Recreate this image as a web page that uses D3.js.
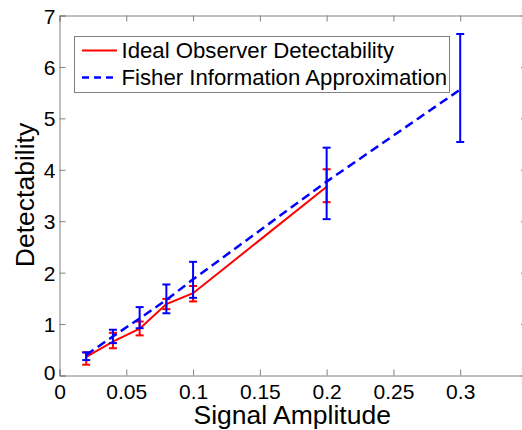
<!DOCTYPE html>
<html>
<head>
<meta charset="utf-8">
<script src="https://cdn.jsdelivr.net/npm/d3@7"></script>
<style>
  html, body { margin: 0; padding: 0; background: #fff; }
  svg { display: block; }
  text { font-family: "Liberation Sans", Arial, Helvetica, sans-serif; fill: #000; }
</style>
</head>
<body>
<svg id="chart" width="522" height="430"></svg>
<script>
// ---- data ----
const idealX     = [0.02, 0.04, 0.06, 0.08, 0.10, 0.20];
const idealY     = [0.36, 0.66, 0.91, 1.39, 1.60, 3.67];
const idealLow   = [0.21, 0.53, 0.78, 1.29, 1.44, 3.37];
const idealHigh  = [0.45, 0.83, 1.05, 1.49, 1.74, 4.01];

const fisherX    = [0.02, 0.04, 0.06, 0.08, 0.10, 0.20, 0.30];
const fisherY    = [0.40, 0.76, 1.11, 1.47, 1.87, 3.77, 5.56];
const fisherLow  = [0.30, 0.63, 0.92, 1.21, 1.51, 3.04, 4.54];
const fisherHigh = [0.45, 0.89, 1.33, 1.77, 2.21, 4.43, 6.64];

const xTicks = [0, 0.05, 0.1, 0.15, 0.2, 0.25, 0.3];
const yTicks = [0, 1, 2, 3, 4, 5, 6, 7];
const legendLabels = ["Ideal Observer Detectability", "Fisher Information Approximation"];
const xLabel = "Signal Amplitude";
const yLabel = "Detectability";

// ---- layout ----
const svg = d3.select("#chart");
const mLeft = 59.5, mRight = 527, mTop = 15.5, mBottom = 375.5;
const x = d3.scaleLinear().domain([0, 0.35]).range([mLeft, mRight]);
const y = d3.scaleLinear().domain([0, 7]).range([mBottom, mTop]);
const axisColor = "#808080";
const red = "#ff0000", blue = "#0000ff";

// axes box
const fmt = d => d === 0 ? "0" : String(d);
const gxB = svg.append("g").attr("transform", `translate(0,${mBottom})`)
  .call(d3.axisBottom(x).tickValues(xTicks).tickSize(-6).tickPadding(0).tickFormat(fmt));
const gxT = svg.append("g").attr("transform", `translate(0,${mTop})`)
  .call(d3.axisTop(x).tickValues(xTicks).tickSize(-6).tickFormat(""));
const gyL = svg.append("g").attr("transform", `translate(${mLeft},0)`)
  .call(d3.axisLeft(y).tickValues(yTicks).tickSize(-6).tickPadding(0).tickFormat(fmt));
const gyR = svg.append("g").attr("transform", `translate(${mRight},0)`)
  .call(d3.axisRight(y).tickValues(yTicks).tickSize(-6).tickFormat(""));
[gxB, gxT, gyL, gyR].forEach(g => {
  g.select(".domain").attr("stroke", axisColor).attr("stroke-width", 1);
  g.selectAll(".tick line").attr("stroke", axisColor).attr("stroke-width", 1);
});
gxB.selectAll(".tick text").attr("font-size", 21).attr("fill", "#000")
  .attr("dy", null).attr("y", 23.5)
  .style("font-family", '"Liberation Sans", Arial, sans-serif');
gyL.selectAll(".tick text").attr("font-size", 21).attr("fill", "#000")
  .attr("x", -4).attr("dy", "0.36em")
  .style("font-family", '"Liberation Sans", Arial, sans-serif');
gyL.selectAll(".tick").filter(d => d === 0).select("text").attr("dy", "0.2em");

// axis labels
svg.append("text").attr("x", (mLeft + mRight) / 2 - 1).attr("y", 424)
  .attr("text-anchor", "middle").attr("font-size", 26.5).text(xLabel);
svg.append("text").attr("transform", `translate(33.5,195) rotate(-90)`)
  .attr("text-anchor", "middle").attr("font-size", 26.5).text(yLabel);

// error bars helper
function errorBars(xs, lows, highs, color) {
  const g = svg.append("g").attr("stroke", color).attr("stroke-width", 2).attr("fill", "none");
  xs.forEach((xv, i) => {
    const cx = x(xv);
    g.append("line").attr("x1", cx).attr("x2", cx).attr("y1", y(lows[i])).attr("y2", y(highs[i]));
    [lows[i], highs[i]].forEach(v => {
      g.append("line").attr("x1", cx - 4).attr("x2", cx + 4).attr("y1", y(v)).attr("y2", y(v));
    });
  });
}

const line = d3.line().x(d => x(d[0])).y(d => y(d[1]));

// ideal observer (red) first
errorBars(idealX, idealLow, idealHigh, red);
svg.append("path").datum(idealX.map((v, i) => [v, idealY[i]]))
  .attr("d", line).attr("fill", "none").attr("stroke", red).attr("stroke-width", 2);

// fisher (blue)
errorBars(fisherX, fisherLow, fisherHigh, blue);
svg.append("path").datum(fisherX.map((v, i) => [v, fisherY[i]]))
  .attr("d", line).attr("fill", "none").attr("stroke", blue).attr("stroke-width", 2.5)
  .attr("stroke-dasharray", "9,5");

// legend
const lg = svg.append("g");
lg.append("rect").attr("x", 74.5).attr("y", 36.5).attr("width", 375).attr("height", 56)
  .attr("fill", "#fff").attr("stroke", "#808080").attr("stroke-width", 1);
const rows = [{ y: 50.5, color: red, dash: null, w: 2 }, { y: 77.5, color: blue, dash: "7,5", w: 2.5 }];
rows.forEach((r, i) => {
  lg.append("line").attr("x1", 82).attr("x2", 117).attr("y1", r.y).attr("y2", r.y)
    .attr("stroke", r.color).attr("stroke-width", r.w).attr("stroke-dasharray", r.dash);
  lg.append("text").attr("x", 121.5).attr("y", r.y).attr("dy", "0.36em")
    .attr("font-size", 22.2).text(legendLabels[i]);
});
</script>
</body>
</html>
